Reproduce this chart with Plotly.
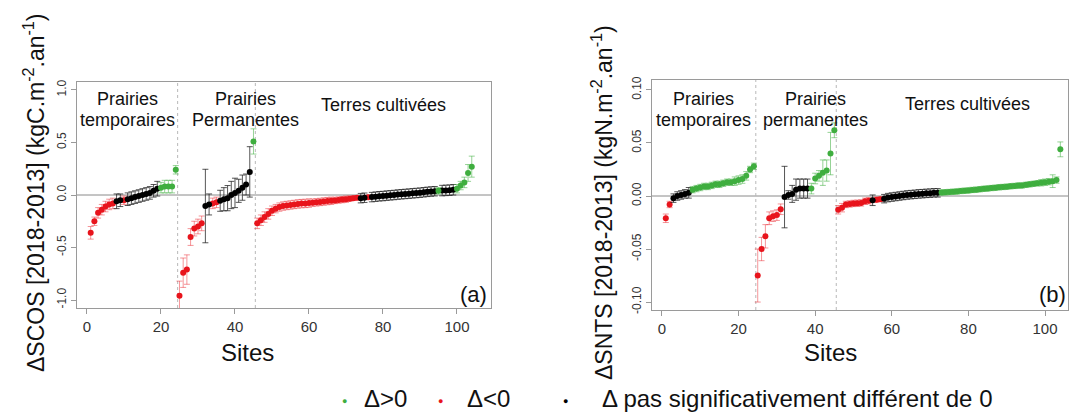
import plotly.graph_objects as go

W, H = 1072, 415
FONT = "Liberation Sans, Arial, sans-serif"

sites = list(range(1, 105))

# ΔSCOS [2018-2013] per site (kgC m-2 an-1), sorted within each land-use group
scos = [
    -0.36, -0.25, -0.17, -0.14, -0.11, -0.09, -0.08, -0.06, -0.05, -0.05, -0.04, -0.03,
    -0.02, -0.01, 0.00, 0.01, 0.02, 0.04, 0.06, 0.07, 0.08, 0.08, 0.08, 0.24,
    -0.96, -0.74, -0.71, -0.40, -0.32, -0.30, -0.27, -0.105, -0.09, -0.08, -0.07, -0.055,
    -0.04, -0.03, 0.00, 0.02, 0.04, 0.07, 0.10, 0.22, 0.51,
    -0.27, -0.24, -0.21, -0.18, -0.15, -0.13, -0.115, -0.105, -0.10, -0.095, -0.09, -0.085,
    -0.082, -0.08, -0.077, -0.073, -0.07, -0.066, -0.062, -0.058, -0.055, -0.052, -0.048,
    -0.044, -0.04, -0.035, -0.03, -0.026, -0.03, -0.026, -0.022, -0.02, -0.016, -0.012,
    -0.01, -0.006, -0.003, 0.00, 0.004, 0.007, 0.01, 0.013, 0.016, 0.019, 0.022, 0.026,
    0.03, 0.033, 0.036, 0.04, 0.042, 0.044, 0.046, 0.05, 0.06, 0.09, 0.12, 0.21, 0.27,
]
scos_err = [
    0.06, 0.04, 0.05, 0.05, 0.05, 0.05, 0.05, 0.07, 0.06, 0.04, 0.06, 0.06,
    0.06, 0.06, 0.06, 0.06, 0.06, 0.06, 0.07, 0.05, 0.06, 0.06, 0.06, 0.04,
    0.14, 0.14, 0.14, 0.08, 0.07, 0.07, 0.07, 0.35, 0.10, 0.05, 0.05, 0.10,
    0.11, 0.12, 0.13, 0.14, 0.11, 0.12, 0.10, 0.24, 0.12,
    0.05, 0.05, 0.05, 0.05, 0.045, 0.04, 0.04, 0.04, 0.04, 0.04, 0.04, 0.04,
    0.04, 0.04, 0.04, 0.035, 0.035, 0.035, 0.035, 0.035, 0.035, 0.03, 0.03,
    0.03, 0.03, 0.025, 0.022, 0.02, 0.045, 0.045, 0.018, 0.045, 0.045, 0.045,
    0.045, 0.045, 0.045, 0.045, 0.045, 0.045, 0.045, 0.045, 0.045, 0.045, 0.045, 0.045,
    0.045, 0.045, 0.045, 0.03, 0.05, 0.05, 0.05, 0.05, 0.04, 0.04, 0.05, 0.08, 0.10,
]
# g: Δ>0, r: Δ<0, n: not significantly different from 0
scos_sig = (
    "rrrrrrrnnrnnnnnnnnnggggg"
    "rrrrrrrnnrrnnnnnnnnng"
    "rrrrrrrrrrrrrrrrrrrrrrrrrrrr" "nnr" "nnnnnnnnnnnnnnnnnn" "g" "nnnn" "ggggg"
)

# ΔSNTS [2018-2013] per site (kgN m-2 an-1)
snts = [
    -0.021, -0.008, -0.002, 0.000, 0.001, 0.002, 0.003, 0.006, 0.007, 0.008, 0.009, 0.009,
    0.010, 0.011, 0.011, 0.012, 0.013, 0.013, 0.014, 0.015, 0.016, 0.019, 0.025, 0.028,
    -0.075, -0.050, -0.038, -0.021, -0.019, -0.018, -0.0125, -0.001, 0.001, 0.002, 0.006,
    0.007, 0.007, 0.007, 0.007, 0.0165, 0.019, 0.022, 0.024, 0.040, 0.062,
    -0.013, -0.011, -0.008, -0.0075, -0.007, -0.0068, -0.0065, -0.005, -0.0045, -0.004,
    -0.0035, -0.003, -0.0025, -0.0015, -0.001, -0.0005, 0.0, 0.0005, 0.001, 0.0013, 0.0016,
    0.002, 0.0022, 0.0025, 0.0027, 0.003, 0.003, 0.0033, 0.0035, 0.0038, 0.004, 0.0043,
    0.0047, 0.005, 0.0053, 0.0057, 0.006, 0.0064, 0.0068, 0.0071, 0.0075, 0.0078, 0.0082,
    0.0085, 0.0088, 0.0092, 0.0095, 0.0098, 0.010, 0.0105, 0.011, 0.0115, 0.012, 0.0125,
    0.013, 0.0135, 0.014, 0.015, 0.044,
]
snts_err = [
    0.004, 0.003, 0.004, 0.004, 0.004, 0.004, 0.005, 0.003, 0.003, 0.003, 0.003, 0.003,
    0.003, 0.003, 0.003, 0.003, 0.003, 0.003, 0.004, 0.004, 0.004, 0.004, 0.003, 0.003,
    0.025, 0.011, 0.011, 0.006, 0.005, 0.005, 0.005, 0.029, 0.004, 0.008, 0.010,
    0.009, 0.009, 0.009, 0.005, 0.005, 0.005, 0.012, 0.010, 0.020, 0.007,
    0.004, 0.004, 0.003, 0.003, 0.003, 0.003, 0.003, 0.003, 0.003, 0.005,
    0.0025, 0.0022, 0.004, 0.004, 0.004, 0.004, 0.004, 0.004, 0.004, 0.004, 0.004,
    0.004, 0.004, 0.004, 0.004, 0.004, 0.004, 0.0025, 0.0025, 0.0025, 0.0025, 0.0025,
    0.0025, 0.0025, 0.0025, 0.0025, 0.0025, 0.0025, 0.0025, 0.0025, 0.0025, 0.0025, 0.0025,
    0.0025, 0.0025, 0.0025, 0.0025, 0.0025, 0.0025, 0.0025, 0.0025, 0.0025, 0.0025, 0.003,
    0.003, 0.003, 0.006, 0.003, 0.007,
]
snts_sig = (
    "rrnnnnnggggggggggggggggg"
    "rrrrrrrnnnnnnnggggggg"
    "rrrrrrrrr" "n" "rr" "nnnnnnnnnnnnnnn" "gggggggggggggggggggggggggggggggg"
)

for arr in (scos, scos_err, scos_sig, snts, snts_err, snts_sig):
    assert len(arr) == len(sites), len(arr)

group_breaks = [24.5, 45.5]

POINT = {"g": "#3fae3f", "r": "#e8141c", "n": "#000000"}
BAR = {"g": "rgba(63,174,63,0.55)", "r": "rgba(232,20,28,0.45)", "n": "rgba(30,30,30,0.75)"}


def px(x):
    return x / W


def py(y):
    return 1 - y / H


fig = go.Figure()

panels = [
    (scos, scos_err, scos_sig, "x", "y"),
    (snts, snts_err, snts_sig, "x2", "y2"),
]
for vals, errs, sig, xa, ya in panels:
    for cls in ["r", "n", "g"]:
        idx = [i for i, c in enumerate(sig) if c == cls]
        fig.add_trace(go.Scatter(
            x=[sites[i] for i in idx],
            y=[vals[i] for i in idx],
            mode="markers",
            marker=dict(color=POINT[cls], size=6, line=dict(width=0)),
            error_y=dict(type="data", array=[errs[i] for i in idx], visible=True,
                         color=BAR[cls], thickness=1, width=3),
            xaxis=xa, yaxis=ya, showlegend=False, hoverinfo="x+y",
        ))

axis_common = dict(
    showgrid=False, zeroline=False, showline=True, mirror=True,
    linecolor="#9a9a9a", linewidth=1, ticks="outside", ticklen=5,
    tickcolor="#9a9a9a", automargin=False,
)

fig.update_layout(
    width=W, height=H, template="none",
    paper_bgcolor="white", plot_bgcolor="white",
    margin=dict(l=0, r=0, t=0, b=0),
    font=dict(family=FONT, color="#111111"),
    xaxis=dict(domain=[px(77), px(491)], range=[-2.7, 109.2],
               tickvals=[0, 20, 40, 60, 80, 100], tickfont=dict(size=15, color="#333"),
               anchor="y", **axis_common),
    yaxis=dict(domain=[py(308), py(82)], range=[-1.076, 1.076],
               tickvals=[-1, -0.5, 0, 0.5, 1],
               ticktext=["-1.0", "-0.5", "0.0", "0.5", "1.0"],
               tickangle=-90, tickfont=dict(size=12, color="#333"),
               anchor="x", **axis_common),
    xaxis2=dict(domain=[px(652), px(1068)], range=[-2.6, 106.0],
                tickvals=[0, 20, 40, 60, 80, 100], tickfont=dict(size=15, color="#333"),
                anchor="y2", **axis_common),
    yaxis2=dict(domain=[py(310), py(80)], range=[-0.1075, 0.1094],
                tickvals=[-0.1, -0.05, 0, 0.05, 0.1],
                ticktext=["-0.10", "-0.05", "0.00", "0.05", "0.10"],
                tickangle=-90, tickfont=dict(size=12, color="#333"),
                anchor="x2", **axis_common),
)

shapes = []
for xa, ya in [("x", "y"), ("x2", "y2")]:
    # zero reference line
    shapes.append(dict(type="line", xref=f"{xa} domain", yref=ya, x0=0, x1=1, y0=0, y1=0,
                       line=dict(color="#8a8a8a", width=1), layer="below"))
    # land-use group separators
    for b in group_breaks:
        shapes.append(dict(type="line", xref=xa, yref=f"{ya} domain", x0=b, x1=b, y0=0, y1=1,
                           line=dict(color="#b8b8b8", width=1, dash="dot"), layer="below"))
fig.update_layout(shapes=shapes)

ann = []


def text(x, y, s, size, angle=0, xanchor="center", color="#111111"):
    ann.append(dict(x=px(x), y=py(y), xref="paper", yref="paper", text=s, showarrow=False,
                    textangle=angle, xanchor=xanchor, yanchor="middle",
                    font=dict(size=size, color=color, family=FONT)))


# group names
text(127, 99, "Prairies", 18)
text(127, 120, "temporaires", 18)
text(245, 99, "Prairies", 18)
text(245, 120, "Permanentes", 18)
text(383, 105, "Terres cultivées", 18)
text(703, 99, "Prairies", 18)
text(703, 120, "temporaires", 18)
text(815, 99, "Prairies", 18)
text(815, 120, "permanentes", 18)
text(967, 104, "Terres cultivées", 18)

# panel tags
text(473, 294, "(a)", 22)
text(1052, 294, "(b)", 22)

# axis titles
text(34, 193, "ΔSCOS [2018-2013] (kgC.m<sup>-2</sup>.an<sup>-1</sup>)", 23, angle=-90)
text(602, 203, "ΔSNTS [2018-2013] (kgN.m<sup>-2</sup>.an<sup>-1</sup>)", 23, angle=-90)
text(247, 352, "Sites", 24)
text(830, 352, "Sites", 24)

# legend
text(344, 401, "●", 9, color=POINT["g"])
text(362, 398, "Δ>0", 24, xanchor="left")
text(440, 401, "●", 9, color=POINT["r"])
text(465, 398, "Δ<0", 24, xanchor="left")
text(565, 401, "●", 9, color=POINT["n"])
text(600, 398, "Δ pas significativement différent de 0", 24, xanchor="left")

fig.update_layout(annotations=ann)

fig.write_html("out.html")
